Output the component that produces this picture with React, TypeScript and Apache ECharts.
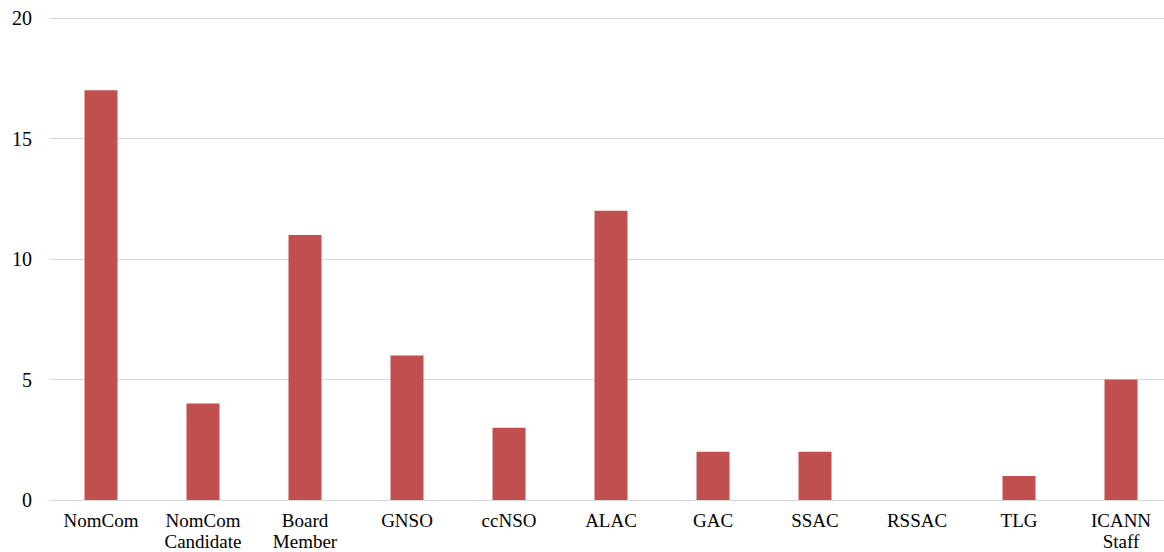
import React, { useEffect, useRef } from "react";
import * as echarts from "echarts";

const categories = ["NomCom", "NomCom\nCandidate", "Board\nMember", "GNSO", "ccNSO", "ALAC", "GAC", "SSAC", "RSSAC", "TLG", "ICANN\nStaff"];
const values = [17, 4, 11, 6, 3, 12, 2, 2, 0, 1, 5];

export default function App() {
  const ref = useRef<HTMLDivElement>(null);
  useEffect(() => {
    const chart = echarts.init(ref.current!, null, { renderer: "svg" });
    const font = "'Liberation Serif', 'Times New Roman', serif";
    chart.setOption({
      animation: false,
      grid: { left: 50, top: 18, height: 482, width: 1122, outerBoundsMode: "none", containLabel: false },
      xAxis: {
        type: "category",
        data: categories,
        axisTick: { show: false },
        axisLine: { lineStyle: { color: "#d9d9d9" } },
        axisLabel: { color: "#000", fontFamily: font, fontSize: 19, margin: 10, lineHeight: 21, interval: 0 },
      },
      yAxis: {
        type: "value",
        min: 0,
        max: 20,
        interval: 5,
        axisLine: { show: false },
        axisTick: { show: false },
        splitLine: { lineStyle: { color: "#d9d9d9" } },
        axisLabel: { color: "#000", fontFamily: font, fontSize: 20, margin: 18 },
      },
      series: [
        {
          type: "bar",
          data: values,
          barWidth: 33,
          itemStyle: { color: "#C0504D" },
        },
      ],
    });
    return () => chart.dispose();
  }, []);
  return (
    <div style={{ position: "fixed", left: 0, top: 0, width: 1164, height: 552, overflow: "hidden", background: "#fff" }}>
      <div ref={ref} style={{ width: 1180, height: 552 }} />
    </div>
  );
}
